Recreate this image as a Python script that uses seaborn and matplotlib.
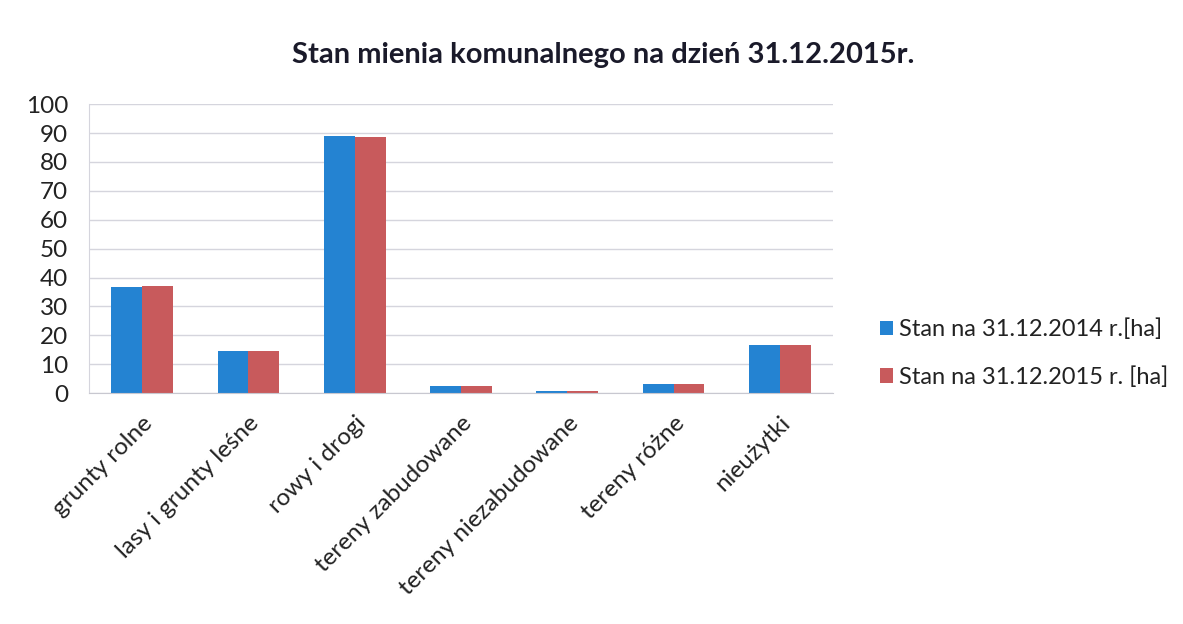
import matplotlib
matplotlib.use("Agg")
import matplotlib.pyplot as plt
import seaborn as sns
import pandas as pd

categories = ["grunty rolne", "lasy i grunty leśne", "rowy i drogi", "tereny zabudowane",
              "tereny niezabudowane", "tereny różne", "nieużytki"]
series_names = ["Stan na 31.12.2014 r.[ha]", "Stan na 31.12.2015 r. [ha]"]
values_2014 = [36.8, 14.6, 89.0, 2.3, 0.7, 3.3, 16.6]
values_2015 = [37.1, 14.6, 88.7, 2.3, 0.7, 3.3, 16.6]
yticks = list(range(0, 101, 10))
title = "Stan mienia komunalnego na dzień 31.12.2015r."

df = pd.DataFrame({
    "kategoria": categories * 2,
    "seria": [series_names[0]] * len(categories) + [series_names[1]] * len(categories),
    "wartosc": values_2014 + values_2015,
})

sns.set_style("white")
plt.rcParams["font.family"] = ["Lato", "DejaVu Sans"]

fig = plt.figure(figsize=(11.83, 6.24), dpi=100)
ax = fig.add_axes([0.0752, 0.370, 0.629, 0.463])

palette = {series_names[0]: "#2483d2", series_names[1]: "#c85a5c"}
sns.barplot(data=df, x="kategoria", y="wartosc", hue="seria", palette=palette,
            width=0.58, ax=ax, saturation=1, edgecolor="none")

ax.set_ylim(0, 100)
ax.set_yticks(yticks)
ax.set_yticklabels([str(t) for t in yticks], fontsize=17.5, color="#222222")
ax.yaxis.grid(True, color="#d5d5dd", linewidth=1)
ax.set_axisbelow(True)
ax.set_xlabel("")
ax.set_ylabel("")
ax.tick_params(axis="y", length=0, pad=15)
ax.tick_params(axis="x", length=0, pad=14)
ax.set_xticks(range(len(categories)))
ax.set_xticklabels(categories, rotation=45, ha="right", rotation_mode="anchor",
                   fontsize=17.5, color="#222222")
for s in ["top", "right"]:
    ax.spines[s].set_visible(False)
ax.spines["left"].set_color("#d5d5dd")
ax.spines["bottom"].set_color("#c8c8d0")

leg = ax.legend(loc="center left", bbox_to_anchor=(1.034, 0.138), frameon=False,
                fontsize=17, handlelength=0.55, handleheight=0.55, handletextpad=0.25,
                labelspacing=1.1)
for t in leg.get_texts():
    t.set_color("#222222")

fig.text(0.51, 0.912, title, ha="center", va="center", fontsize=21,
         fontweight="bold", color="#1a1a2a")

fig.savefig("out.png", dpi=100, facecolor="white")
